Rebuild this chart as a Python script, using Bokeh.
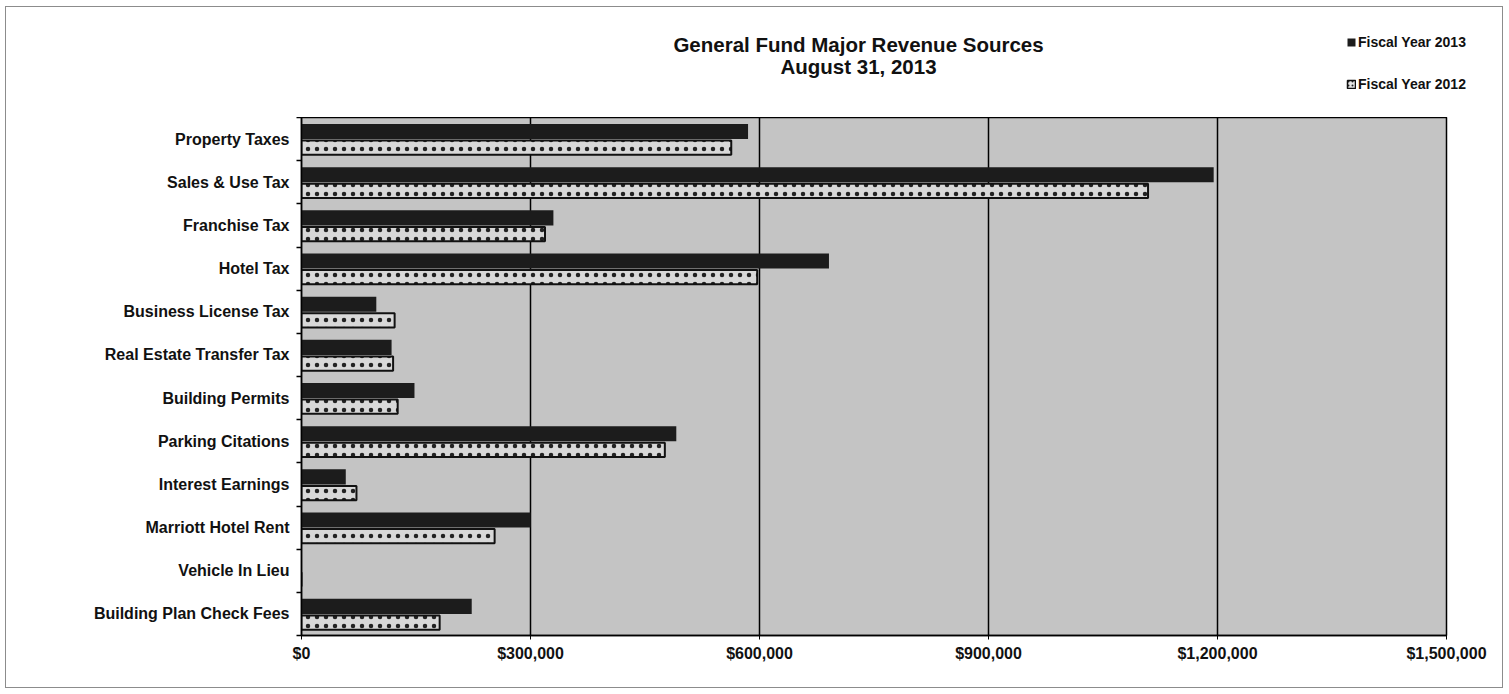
from bokeh.plotting import figure
from bokeh.layouts import column
from bokeh.models import (ColumnDataSource, FixedTicker, NumeralTickFormatter,
                          Legend, LegendItem, Label, Range1d)
from bokeh.transform import dodge
from bokeh.embed import file_html
from bokeh.resources import INLINE

# Revenue categories, listed top to bottom
categories = [
    "Property Taxes", "Sales & Use Tax", "Franchise Tax", "Hotel Tax",
    "Business License Tax", "Real Estate Transfer Tax", "Building Permits",
    "Parking Citations", "Interest Earnings", "Marriott Hotel Rent",
    "Vehicle In Lieu", "Building Plan Check Fees",
]
fy2013 = [585000, 1195000, 330000, 691000, 98000, 118000, 148000,
          491000, 58000, 300000, 0, 223000]
fy2012 = [563000, 1109000, 319000, 597000, 122000, 120000, 126000,
          476000, 72000, 253000, 0, 181000]
x_ticks = [0, 300000, 600000, 900000, 1200000, 1500000]

title_lines = ["General Fund Major Revenue Sources", "August 31, 2013"]
series_names = ["Fiscal Year 2013", "Fiscal Year 2012"]

FONT = "Liberation Sans"
INK = "#111111"
W = 1496
HEAD_H = 110

black_style = dict(fill_color="#1c1c1c", line_color=None)
pattern_style = dict(fill_color="#d8d8d8", line_color=INK, line_width=2,
                     hatch_pattern="dot", hatch_color="#222222",
                     hatch_scale=9, hatch_weight=2.5)

n = len(categories)
pos = [n - i - 0.5 for i in range(n)]
src = ColumnDataSource(dict(cat=categories, pos=pos, fy13=fy2013, fy12=fy2012))

# ---- header: title and legend (own frame, not aligned with the chart) ----
head = figure(width=W, height=HEAD_H, output_backend="svg",
              toolbar_location=None, x_axis_location=None,
              y_axis_location=None, x_range=Range1d(0, W),
              y_range=Range1d(0, HEAD_H), min_border=0,
              min_border_left=0, min_border_right=0,
              min_border_top=0, min_border_bottom=0,
              outline_line_color=None, frame_align=False)
head.grid.visible = False
head.border_fill_color = "white"
head.background_fill_color = "white"

for text, y in zip(title_lines, [73.5, 51.5]):
    head.add_layout(Label(x=852, y=y, text=text, text_align="center",
                          text_baseline="middle", text_font=FONT,
                          text_font_style="bold", text_font_size="20.5px",
                          text_color=INK))

# legend swatches: zero-length bars parked below the header frame
swatch = ColumnDataSource(dict(y=[-HEAD_H], right=[0]))
sw13 = head.hbar(y="y", right="right", left=0, height=1, source=swatch,
                 **black_style)
sw12 = head.hbar(y="y", right="right", left=0, height=1, source=swatch,
                 **{**pattern_style, "line_width": 1.5, "hatch_scale": 4,
                    "hatch_weight": 1.5, "fill_color": "#e6e6e6"})
legend = Legend(items=[LegendItem(label=series_names[0], renderers=[sw13]),
                       LegendItem(label=series_names[1], renderers=[sw12])],
                location=(1340, 25), orientation="vertical",
                glyph_width=10, glyph_height=10, label_height=16,
                label_standoff=2, spacing=26, padding=0, margin=0,
                border_line_color=None, background_fill_alpha=0,
                label_text_font=FONT, label_text_font_style="bold",
                label_text_font_size="14px", label_text_color=INK,
                label_text_baseline="middle")
head.add_layout(legend, "center")

# ---- chart ----
p = figure(width=W, height=570, output_backend="svg", toolbar_location=None,
           x_range=Range1d(0, 1500000), y_range=Range1d(0, n),
           min_border_left=295, min_border_right=56,
           min_border_top=0, min_border_bottom=52, frame_align=False)

p.background_fill_color = "#c4c4c4"
p.border_fill_color = "white"
p.outline_line_color = "black"
p.outline_line_width = 1.5

p.hbar(y=dodge("pos", 0.175), right="fy13", left=0, height=0.35,
       source=src, **black_style)
p.hbar(y=dodge("pos", -0.2), right="fy12", left=0, height=0.33,
       source=src, **pattern_style)

p.ygrid.grid_line_color = None
p.xgrid.ticker = FixedTicker(ticks=x_ticks)
p.xgrid.grid_line_color = "black"
p.xgrid.grid_line_width = 1.5

p.xaxis.ticker = FixedTicker(ticks=x_ticks)
p.xaxis.formatter = NumeralTickFormatter(format="$0,0")
p.xaxis.axis_line_color = "black"
p.xaxis.axis_line_width = 1.5
p.xaxis.major_tick_out = 4
p.xaxis.major_tick_in = 0
p.xaxis.major_tick_line_color = "black"
p.xaxis.minor_tick_line_color = None
p.xaxis.major_label_text_font = FONT
p.xaxis.major_label_text_font_style = "bold"
p.xaxis.major_label_text_font_size = "16px"
p.xaxis.major_label_text_color = INK
p.xaxis.major_label_standoff = 5

# labels at band centres, small ticks at band boundaries
p.yaxis.ticker = FixedTicker(ticks=pos, minor_ticks=list(range(n + 1)))
p.yaxis.major_label_overrides = {v: c for v, c in zip(pos, categories)}
p.yaxis.major_tick_line_color = None
p.yaxis.major_tick_out = 6
p.yaxis.minor_tick_out = 5
p.yaxis.minor_tick_in = 0
p.yaxis.minor_tick_line_color = "black"
p.yaxis.minor_tick_line_width = 1.5
p.yaxis.axis_line_color = "black"
p.yaxis.axis_line_width = 1.5
p.yaxis.major_label_text_font = FONT
p.yaxis.major_label_text_font_style = "bold"
p.yaxis.major_label_text_font_size = "16px"
p.yaxis.major_label_text_color = INK
p.yaxis.major_label_standoff = 6

page = column(head, p, spacing=0,
              styles={"border": "1.5px solid #8c8c8c",
                      "margin-left": "5px", "margin-top": "6px"})

open("out.html", "w").write(file_html(page, INLINE))
